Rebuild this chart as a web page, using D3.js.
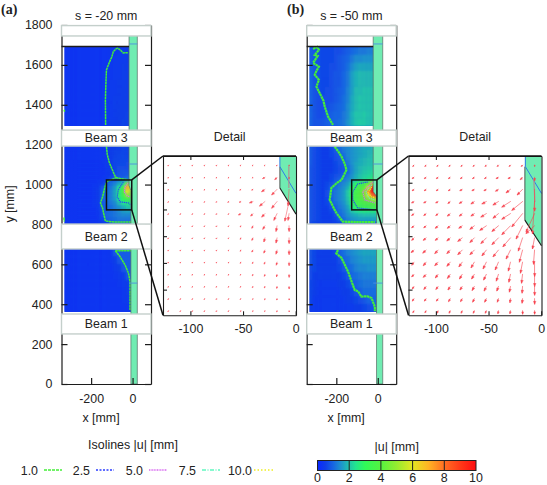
<!DOCTYPE html>
<html><head><meta charset="utf-8">
<script src="https://cdn.jsdelivr.net/npm/d3@7/dist/d3.min.js"></script>
<style>
html,body{margin:0;padding:0;background:#fff}
svg{display:block}
text{font-family:"Liberation Sans",Arial,sans-serif;font-size:12.4px;fill:#222}
</style></head><body><div id="c"></div>
<script>
// ---------- data ----------
const yTicks=[0,200,400,600,800,1000,1200,1400,1600,1800];
const xTicks=[-200,0];
const detailXTicks=[-100,-50,0];
const detailYTicks=[900,925,950,975,1000];
const beams=[["",1745,1797],["Beam 3",1193,1273],["Beam 2",677,802],["Beam 1",251,351]];
const cellCols=[-325,-305,-285,-265,-245,-225,-205,-185,-165,-145,-125,-105,-85,-65,-45,-25,-5];
const upperRows=[1670,1630,1590,1550,1510,1470,1430,1390,1350,1310];
const middleRows=[1185,1165,1145,1125,1105,1085,1065,1045,1025,1005,985,965,945,925,905,885,865,845,825,805];
const lowerRows=[660,620,580,540,500,460,420,380];
const aUpper=[
[.3,.3,.3,.3,.3,.3,.3,.3,.3,.3,.3,.35,.35,.4,.4,.45,.45],
[.3,.3,.3,.3,.3,.3,.3,.3,.3,.3,.3,.35,.4,.4,.4,.45,.45],
[.3,.3,.3,.3,.3,.3,.3,.3,.3,.3,.35,.35,.4,.4,.45,.45,.45],
[.3,.3,.3,.3,.3,.3,.3,.3,.3,.3,.35,.35,.4,.4,.45,.5,.5],
[.3,.3,.3,.3,.3,.3,.3,.3,.3,.3,.35,.4,.4,.45,.45,.5,.5],
[.3,.3,.3,.3,.3,.3,.3,.3,.3,.3,.35,.4,.4,.45,.5,.5,.5],
[.3,.3,.3,.3,.3,.3,.3,.3,.3,.3,.35,.4,.45,.45,.5,.5,.5],
[.3,.3,.3,.3,.3,.3,.3,.3,.3,.3,.35,.4,.45,.5,.5,.5,.55],
[.3,.3,.3,.3,.3,.3,.3,.3,.3,.3,.35,.4,.45,.5,.5,.55,.55],
[.3,.3,.3,.3,.3,.3,.3,.3,.3,.3,.35,.45,.45,.5,.55,.55,.6]];
const aMiddle=[
[.3,.3,.3,.3,.3,.3,.3,.3,.3,.35,.45,.5,.5,.55,.6,.6,.6],
[.3,.3,.3,.3,.3,.3,.3,.3,.3,.35,.45,.5,.55,.55,.6,.6,.6],
[.3,.3,.3,.3,.3,.3,.3,.3,.3,.35,.4,.5,.55,.6,.6,.6,.6],
[.3,.3,.3,.3,.3,.3,.3,.3,.3,.35,.4,.5,.6,.6,.65,.65,.65],
[.3,.3,.3,.3,.3,.3,.3,.3,.3,.3,.4,.45,.6,.65,.65,.7,.7],
[.3,.3,.3,.3,.3,.3,.3,.3,.3,.3,.4,.45,.6,.7,.7,.7,.7],
[.3,.3,.3,.3,.3,.3,.3,.3,.3,.3,.35,.45,.6,.75,.8,.8,.8],
[.3,.3,.3,.3,.3,.3,.3,.3,.3,.3,.35,.45,.7,.8,.8,.9,.9],
[.3,.3,.3,.3,.3,.3,.3,.3,.3,.35,.5,.7,.9,1.1,1.2,1.3,1.3],
[.3,.3,.3,.3,.3,.3,.3,.3,.35,.5,.8,1.1,1.3,1.7,2.3,4.5,5.5],
[.3,.3,.3,.3,.3,.3,.3,.35,.4,.8,1.0,1.2,1.6,2.4,3.6,7,6],
[.3,.3,.3,.3,.3,.3,.3,.35,.45,.9,1.1,1.3,1.7,2.7,3.8,6,5],
[.3,.3,.3,.3,.3,.3,.3,.35,.45,.9,1.1,1.3,1.7,2.6,3.5,5,4.5],
[.3,.3,.3,.3,.3,.3,.3,.35,.45,.9,1.1,1.3,1.6,2.4,3,3.5,3.3],
[.3,.3,.3,.3,.3,.3,.3,.35,.4,.85,1.05,1.2,1.4,1.9,2.4,2.6,2.6],
[.3,.3,.3,.3,.3,.3,.3,.3,.4,.8,1.0,1.1,1.3,1.5,1.8,2.1,2.2],
[.3,.3,.3,.3,.3,.3,.3,.3,.35,.7,1,1.1,1.2,1.4,1.6,1.7,1.7],
[.3,.3,.3,.3,.3,.3,.3,.3,.35,.7,1,1.1,1.2,1.3,1.4,1.4,1.4],
[.3,.3,.3,.3,.3,.3,.3,.3,.35,.6,.9,1.0,1.1,1.2,1.2,1.2,1.2],
[.3,.3,.3,.3,.3,.3,.3,.3,.3,.4,.5,.8,.9,.9,.9,.8,.8]];
const aLower=[
[.3,.3,.3,.3,.3,.3,.3,.3,.3,.3,.3,.35,.8,.9,.9,.9,.9],
[.3,.3,.3,.3,.3,.3,.3,.3,.3,.3,.3,.35,.5,.8,.9,.9,.9],
[.3,.3,.3,.3,.3,.3,.3,.3,.3,.3,.3,.3,.4,.5,.8,.9,.9],
[.3,.3,.3,.3,.3,.3,.3,.3,.3,.3,.3,.3,.35,.4,.5,.8,.9],
[.3,.3,.3,.3,.3,.3,.3,.3,.3,.3,.3,.3,.3,.35,.4,.5,.8],
[.3,.3,.3,.3,.3,.3,.3,.3,.3,.3,.3,.3,.3,.3,.35,.45,.7],
[.3,.3,.3,.3,.3,.3,.3,.3,.3,.3,.3,.3,.3,.3,.35,.4,.6],
[.3,.3,.3,.3,.3,.3,.3,.3,.3,.3,.3,.3,.3,.3,.3,.35,.5]];
const bUpper=[
[.9,.8,.7,.6,.6,.6,.7,.7,.8,.9,1.0,1.1,1.2,1.2,1.3,1.3,1.3],
[.9,.8,.7,.6,.6,.6,.7,.8,.9,1.0,1.2,1.4,1.4,1.5,1.5,1.5,1.5],
[1.0,.8,.7,.6,.6,.7,.7,.8,.9,1.1,1.4,1.6,1.7,1.7,1.7,1.7,1.7],
[1.0,.8,.7,.6,.6,.7,.8,.8,1.0,1.2,1.6,1.8,1.9,1.9,1.9,1.9,1.9],
[1.0,.8,.7,.6,.6,.7,.8,.8,1.0,1.2,1.6,1.8,1.9,1.9,1.9,1.9,1.9],
[1.0,.8,.7,.6,.7,.7,.8,.9,1.0,1.3,1.6,1.9,1.9,2,2,2,2],
[1.0,.8,.7,.7,.7,.7,.8,.9,1.1,1.3,1.7,1.9,2,2,2,2,2],
[1.0,.8,.7,.7,.7,.8,.9,1.0,1.1,1.4,1.7,1.9,2,2,2,2,2],
[1.0,.8,.7,.7,.8,.9,1.0,1.0,1.2,1.4,1.8,2,2,2.1,2,2,2],
[1.0,.8,.8,.8,.9,1.0,1.0,1.1,1.2,1.5,1.8,2,2.1,2.1,2,2,2]];
const bMiddle=[
[.9,.7,.6,.5,.5,.6,.9,1.1,1.3,1.4,1.5,1.6,1.7,1.8,1.8,1.9,1.9],
[.9,.7,.6,.5,.5,.6,.8,1.0,1.2,1.4,1.5,1.6,1.7,1.8,1.9,1.9,1.9],
[.9,.7,.6,.5,.5,.6,.7,.9,1.1,1.4,1.5,1.6,1.7,1.8,1.9,2,2],
[.9,.7,.6,.5,.5,.5,.7,.8,1.0,1.3,1.5,1.6,1.8,1.9,2,2,2],
[.9,.7,.6,.5,.5,.5,.6,.8,.9,1.2,1.5,1.7,1.8,1.9,2,2,2.1],
[.8,.7,.6,.5,.5,.5,.6,.7,.8,1.1,1.4,1.7,1.9,2,2.1,2.1,2.2],
[.8,.7,.6,.5,.5,.5,.6,.7,.8,1.0,1.4,1.7,1.9,2.1,2.2,2.3,2.4],
[.8,.7,.6,.5,.5,.6,.7,.8,1.0,1.2,1.5,1.8,2.0,2.2,2.3,2.5,2.6],
[.8,.7,.6,.5,.5,.6,.8,1.0,1.2,1.4,1.6,1.9,2.1,2.4,2.6,2.9,3.2],
[.8,.7,.6,.5,.6,.7,1.0,1.2,1.4,1.6,2.2,2.9,3.2,3.6,4.2,5.5,9],
[.8,.7,.6,.5,.6,.9,1.1,1.3,1.5,1.8,2.8,3.4,3.8,4.2,5.8,10,10],
[.8,.7,.6,.5,.7,1.0,1.2,1.4,1.6,2.1,3.1,3.6,4,4.8,7.5,10,10],
[.8,.7,.6,.5,.7,1.0,1.2,1.4,1.6,2.1,3.1,3.7,4,4.6,5.8,8,9],
[.8,.7,.6,.5,.6,.9,1.2,1.4,1.6,2,3,3.6,3.9,4.2,4.7,5.2,5.2],
[.8,.7,.6,.5,.6,.8,1.1,1.3,1.5,1.9,2.8,3.4,3.6,3.8,3.9,4,4.2],
[.8,.7,.6,.5,.5,.7,.9,1.2,1.4,1.7,2.5,3,3.3,3.4,3.5,3.6,3.7],
[.8,.7,.6,.5,.5,.6,.8,1.1,1.3,1.6,2,2.3,2.5,2.6,2.6,2.6,2.6],
[.8,.7,.6,.5,.5,.5,.7,1.0,1.2,1.5,1.7,1.8,1.9,2,2,2,2],
[.8,.7,.6,.5,.5,.5,.6,.9,1.1,1.3,1.5,1.6,1.7,1.7,1.7,1.7,1.7],
[.7,.6,.5,.5,.5,.5,.5,.6,.8,1.0,1.1,1.1,1.1,1.1,1.0,1.0,1.0]];
const bLower=[
[.8,.6,.5,.5,.5,.5,.6,.9,1.1,1.3,1.4,1.5,1.6,1.7,1.7,1.7,1.7],
[.8,.6,.5,.5,.5,.5,.5,.7,1.0,1.1,1.3,1.4,1.5,1.6,1.6,1.6,1.6],
[.7,.6,.5,.5,.5,.5,.5,.6,.8,1.0,1.1,1.3,1.4,1.4,1.5,1.5,1.5],
[.7,.5,.5,.5,.5,.5,.5,.5,.6,.8,1.0,1.1,1.2,1.3,1.3,1.3,1.3],
[.6,.5,.4,.4,.4,.4,.4,.5,.5,.6,.8,.9,1.1,1.2,1.2,1.2,1.2],
[.6,.5,.4,.4,.4,.4,.4,.4,.5,.5,.6,.8,.9,1.1,1.1,1.1,1.1],
[.6,.4,.4,.4,.4,.4,.4,.4,.4,.5,.5,.6,.7,.8,1.0,1.0,1.0],
[.5,.4,.4,.4,.4,.4,.4,.4,.4,.4,.4,.5,.5,.6,.7,.8,.8]];
const colorStops=[0,.5,1,1.5,2,2.4,3,4,5,6,7,8,9,10];
const colorValues=["#0a28ff","#0f3ee8","#1766e2","#1e94cc","#20c4aa","#22e490","#30fb58","#55f240","#96ec30","#e4e822","#ffb424","#ff6e22","#ff3a18","#ff0c10"];
const isoLevels=["1.0","2.5","5.0","7.5","10.0"];
const isoColors=["#44ee38","#2a3cff","#d868f0","#60f8c0","#eeee20"];
const stripColor="#70ecb2";
const aIso1=[
[[-23,1661],[-45,1660],[-60,1675],[-72,1684],[-80,1680],[-93,1667],[-100,1640],[-107,1625],[-117,1600],[-126,1575],[-129,1500],[-131,1424],[-130,1299]],
[[-126,1190],[-122,1150],[-112,1110],[-100,1080],[-88,1050],[-80,1035],[-92,1028],[-120,1018],[-130,1000],[-145,938],[-155,908],[-145,883],[-140,858],[-131,817],[-83,812],[-7,812]],
[[-80,1035],[-60,1030],[-30,1025],[-8,1020]],
[[-83,668],[-60,638],[-36,597],[-20,556],[-12,513],[-12,371]],
[[-83,668],[-8,668]],
[[-330,1375],[-328,1365]],[[-331,835],[-330,815]]];
const aIso25=[[[-45,1013],[-69,973],[-74,938],[-60,913],[-21,908],[-7,898]]];
const aIso5=[[[-21,1008],[-36,988],[-40,963],[-26,943],[-12,938]]];
const aIso75=[];
const aIso10=[];
const bIso1=[
[[-312,1680],[-292,1690],[-284,1675],[-304,1650],[-290,1645],[-296,1635],[-312,1610],[-284,1591],[-296,1570],[-304,1550],[-284,1525],[-296,1491],[-272,1441],[-262,1420],[-256,1391],[-240,1341],[-216,1299]],
[[-208,1190],[-190,1165],[-175,1140],[-160,1105],[-151,1073],[-175,1023],[-195,1010],[-224,983],[-232,923],[-208,873],[-199,857],[-169,814],[-103,812],[-14,812]],
[[-192,672],[-200,655],[-175,632],[-143,563],[-125,510],[-111,471],[-95,465],[-79,438],[-50,440],[-30,431],[-14,387],[-14,365]]];
const bIso25=[[[-18,1680],[-18,1300]],[[-18,1190],[-18,1030]],[[-48,1013],[-97,1003],[-121,963],[-121,923],[-97,883],[-14,873]]];
const bIso5=[[[-24,1013],[-72,963],[-63,923],[-14,908]]];
const bIso75=[[[-29,998],[-58,963],[-43,933],[-14,923]]];
const bIso10=[[[-29,988],[-48,958],[-29,938],[-14,935]]];
const arrowX=[-120.8,-109.3,-97.9,-86.4,-75,-63.5,-52.1,-40.6,-29.2,-17.7,-6.3];
const arrowY=[1016.5,1005.1,993.8,982.4,971.1,959.7,948.4,937,925.7,914.3,903,891.6,880.3];
const aDx=[
[-.5,-.5,-.5,-.5,-.5,-.5,-.5,-.5,-.5,-.5,0],
[-.5,-.5,-.5,-.5,-.5,-.5,-.5,-.5,-2,-2,0],
[-.5,-.5,-.5,-.5,-.5,-.5,-.8,-1,-3,-5,-1],
[-.5,-.5,-.5,-.5,-.5,-.8,-1.2,-3,-5,-5,-4],
[-.5,-.5,-.5,-.5,-.5,-.5,-2,-2,-3,-3,-1],
[-.5,-.5,-.5,-.5,-.5,-.5,-.5,-1,-2,-1,0],
[-.5,-.5,-.5,-.5,-.5,-.5,-.5,-1,-1,-1,0],
[-.5,-.5,-.5,-.5,-.5,-.5,-.5,-1,-1,-1,0],
[-.5,-.5,-.5,-.5,-.5,-.5,-.5,-.5,-.7,-.7,0],
[-.5,-.5,-.5,-.5,-.5,-.5,-.5,-.5,-.5,-.5,0],
[-.5,-.5,-.5,-.5,-.5,-.5,-.5,-.5,-.5,-.3,0],
[-.5,-.5,-.5,-.5,-.5,-.5,-.5,-.3,-.3,-.3,0],
[-.5,-.5,-.5,-.5,-.5,-.5,-.3,-.3,-.3,-.3,0]];
const aDy=[
[.5,.5,.5,.5,.5,.5,.5,.5,.5,.5,.5],
[.5,.5,.5,.5,.5,.5,.5,.5,1,2,1],
[.5,.5,.5,.5,.5,.5,.5,.5,2,5,15],
[.5,.5,.5,.5,.5,.5,.5,1,4,6,18],
[.5,.5,.5,.5,.5,.5,1,2,3,6,6],
[.5,.5,.5,.5,.5,.5,.8,2,3,5,5],
[.5,.5,.5,.5,.5,.5,1,2,3.5,4.5,5],
[.5,.5,.5,.5,.5,.5,.8,1.5,2.5,3.5,4],
[.5,.5,.5,.5,.5,.5,.8,1,1.5,2.5,3],
[.5,.5,.5,.5,.5,.5,.5,1,1.5,2,2.5],
[.5,.5,.5,.5,.5,.5,.5,.8,1,1.5,2],
[.5,.5,.5,.5,.5,.5,.5,.5,.8,1,1],
[.5,.5,.5,.5,.5,.5,.5,.5,.5,.8,.8]];
const bDx=[
[-1,-1,-1,-1,-1,-1,-1,-1,-1,-1,0],
[-1.5,-1.5,-1.5,-1.5,-1.5,-1.5,-1.5,-2,-2,-2,0],
[-1.5,-1.5,-1.5,-1.5,-2,-2,-2,-2.5,-4,-5,0],
[-2,-2,-2,-2,-2.5,-3,-4,-5,-8,-10,-2],
[-2,-2,-2,-2.5,-2.5,-3,-5,-5,-8,-10,-8],
[-2,-2,-2.5,-2.5,-3,-4,-6,-6,-8,-6,-8],
[-2,-2.5,-2.5,-3,-4,-4,-5,-6,-7,-4,-2],
[-2.5,-3,-3,-3,-4,-4,-4,-5,-4,-3,-1],
[-2,-2.5,-3,-3,-3,-3,-3,-3,-2,-2,0],
[-2,-2.5,-2.5,-2.5,-2.5,-2.5,-2.5,-2,-1.5,-1,0],
[-1.5,-2,-2,-2,-2,-2,-2,-1.5,-1,-.5,0],
[-1.5,-1.5,-1.5,-1.5,-1.5,-1.5,-1.5,-1,-.5,-.5,0],
[-1,-1,-1,-1,-1,-1,-1,-.5,-.5,0,0]];
const bDy=[
[1,1,1,1,1,1,1,1,1,1,1],
[1,1,1,1,1,1,1,1,1,2,3],
[1,1,1,1,1,1,1,1.5,3,5,20],
[1,1,1,1.5,1.5,2,2,3,5,8,30],
[1.5,1.5,1.5,2,2,2,3,4,5,12,17],
[1.5,1.5,2,2,2,3,4,5,8,12,7],
[2,2,2,2.5,3,4,5,6,8,12,10],
[2,2.5,3,3,4,4,5,6,8,11,13],
[2.5,3,3,3.5,4,5,6,7,8,10,13],
[2,2.5,3,3.5,4,4,5,6,7,8,11],
[2,2.5,2.5,3,3,3.5,4,4,5,6,8],
[2,2,2,2.5,2.5,3,3,3,3.5,4,5],
[1.5,1.5,2,2,2,2,2,2.5,2.5,3,3]];
const aStrip=[[-17,1745],[-17,995],[-8,970],[-8,0],[23,0],[23,1745]];
const bStrip=[[-22,1745],[-22,965],[-6,941],[-6,0],[24,0],[24,1745]];
const aDetailStrip=[[-15,1025],[-15,995],[0.3,970.6],[0.3,1025]];
const bDetailStrip=[[-15.5,1025],[-15.5,965],[0.3,941],[0.3,1025]];
const stripMarks=[1705,1103,506];
const detailBlue=[[-15,1025],[-15,1015],[0.3,990]];
const aGrayLine=[[-6.5,1016],[-6.5,995]];
const bGrayLine=[[-7,1004],[-6,982]];
const colorbarTicks=[0,2,4,6,8,10];

// ---------- drawing ----------
const svg=d3.select("#c").append("svg").attr("width",547).attr("height",485);
const color=d3.scaleLinear().domain(colorStops).range(colorValues);
const defs=svg.append("defs");
defs.append("filter").attr("id","soft").attr("x","-5%").attr("y","-5%").attr("width","110%").attr("height","110%")
  .append("feGaussianBlur").attr("stdDeviation",1.0);
const y=d3.scaleLinear().domain([0,1800]).range([384,25]);
const yD=d3.scaleLinear().domain([876,1025]).range([315.3,156]);
const ink="#1c1c1c";
const line=d3.line();
const plain=d=>String(d);

function field(g,id,x,rows,values,top,bottom,left,rowH){
  defs.append("clipPath").attr("id",id).append("rect")
    .attr("x",x(left)).attr("y",y(top)).attr("width",x(5)-x(left)).attr("height",y(bottom)-y(top));
  const h=g.append("g").attr("clip-path",`url(#${id})`);
  h.append("rect").attr("x",x(left)).attr("y",y(top)).attr("width",x(5)-x(left)).attr("height",y(bottom)-y(top)).attr("fill",color(.4));
  const f=h.append("g").attr("filter","url(#soft)");
  rows.forEach((ry,i)=>{
    f.selectAll(null).data(values[i]).join("rect")
      .attr("x",(d,j)=>x(cellCols[j]-10.5)).attr("y",y(ry+rowH/2+.5))
      .attr("width",x(11)-x(-10)).attr("height",y(0)-y(rowH+1)).attr("fill",d=>color(d));
  });
}
function isolines(g,x,yy,sets,w0){
  sets.forEach((segs,k)=>{
    g.selectAll(null).data(segs).join("path")
      .attr("d",s=>line(s.map(p=>[x(p[0]),yy(p[1])])))
      .attr("fill","none").attr("stroke",isoColors[k]).attr("stroke-width",k==0?w0:1.1)
      .attr("stroke-dasharray",k==0?"2.5 .4":"1.2 .8");
  });
}
function panel(o){
  const x=d3.scaleLinear().domain([-343,89]).range([o.left,o.left+89.5]);
  const g=svg.append("g");
  field(g,o.id+"u",x,upperRows,o.upper,1692,1293,o.fieldLeft,40);
  field(g,o.id+"m",x,middleRows,o.middle,1193,802,o.fieldLeft,20);
  field(g,o.id+"l",x,lowerRows,o.lower,677,361,o.fieldLeft,40);
  isolines(g,x,y,o.iso,o.isoWidth);
  g.append("path").attr("d",line(o.strip.map(p=>[x(p[0]),y(p[1])])))
    .attr("fill",stripColor).attr("stroke","#5a6a64").attr("stroke-width",.7);
  g.selectAll(null).data(stripMarks).join("line")
    .attr("x1",x(o.strip[0][0])).attr("x2",x(o.strip[4][0])).attr("y1",d=>y(d)).attr("y2",d=>y(d))
    .attr("stroke","#4d8fe0").attr("stroke-width",.9);
  g.append("line").attr("x1",o.left).attr("x2",x(o.strip[0][0])).attr("y1",y(1692)).attr("y2",y(1692)).attr("stroke",ink).attr("stroke-width",1.4);
  // axes
  const ax=g.append("g").attr("class","ax");
  ax.append("g").attr("transform",`translate(${o.left},0)`)
    .call(d3.axisLeft(y).tickValues(yTicks).tickFormat(o.yLabels?plain:"").tickSizeInner(-6).tickSizeOuter(0).tickPadding(9));
  ax.append("g").attr("transform",`translate(${o.left+89.5},0)`)
    .call(d3.axisRight(y).tickValues(yTicks).tickFormat("").tickSizeInner(-6).tickSizeOuter(0));
  ax.append("g").attr("transform","translate(0,384)")
    .call(d3.axisBottom(x).tickValues(xTicks).tickFormat(plain).tickSizeInner(-6).tickSizeOuter(0).tickPadding(10));
  ax.selectAll("path,line").attr("stroke",ink).attr("stroke-width",1.2);
  ax.selectAll("text").attr("fill","#222").style("font-size","12.4px").style("font-family",'"Liberation Sans"');
  // beams
  g.selectAll(null).data(beams).join("rect")
    .attr("x",o.left).attr("width",89.5).attr("y",d=>y(d[2])).attr("height",d=>y(d[1])-y(d[2]))
    .attr("fill","#fff").attr("stroke","#c4cfcb").attr("stroke-width",1.4);
  g.selectAll(null).data(beams).join("text")
    .attr("x",o.left+44.7).attr("y",d=>(y(d[1])+y(d[2]))/2+4.3).attr("text-anchor","middle").text(d=>d[0]);
  g.append("text").attr("x",o.left+44.7).attr("y",20).attr("text-anchor","middle").text(o.title);
  g.append("text").attr("x",o.left+39.5).attr("y",422).attr("text-anchor","middle").text("x [mm]");
  g.append("text").attr("x",o.tagX).attr("y",14).attr("text-anchor","start")
    .style("font-family",'"Liberation Serif"').style("font-weight","bold").style("font-size","14px").text(o.tag);

  // detail
  const xD=d3.scaleLinear().domain([-126,0.3]).range([o.dLeft,o.dLeft+133]);
  const d=svg.append("g");
  d.append("rect").attr("x",o.dLeft).attr("y",156).attr("width",133).attr("height",159.3).attr("fill","#fff");
  d.append("path").attr("d",line(o.dStrip.map(p=>[xD(p[0]),yD(p[1])]))+"Z").attr("fill",stripColor);
  d.append("path").attr("d",line(o.dStrip.slice(1,3).map(p=>[xD(p[0]),yD(p[1])]))).attr("stroke",ink).attr("stroke-width",1.1).attr("fill","none");
  d.append("line").attr("x1",xD(o.dStrip[0][0])).attr("x2",xD(o.dStrip[0][0])).attr("y1",yD(1015)).attr("y2",yD(o.dStrip[1][1])).attr("stroke","#333").attr("stroke-width",.8);
  d.append("path").attr("d",line(detailBlue.map(p=>[xD(p[0]),yD(p[1])]))).attr("stroke","#2f7be8").attr("stroke-width",1).attr("fill","none");
  d.append("path").attr("d",line(o.gray.map(p=>[xD(p[0]),yD(p[1])]))).attr("stroke","#b09090").attr("stroke-width",1.2).attr("fill","none");
  // arrows
  const arrows=[];
  arrowY.forEach((ay,r)=>arrowX.forEach((ax0,c)=>arrows.push({ax0,ay,u:o.dx[r][c],v:o.dy[r][c]})));
  d.selectAll(null).data(arrows).join("path").attr("d",a=>{
    const x0=xD(a.ax0),y0=yD(a.ay),x1=xD(a.ax0+a.u),y1=yD(a.ay-a.v);
    const L=Math.hypot(x1-x0,y1-y0)||1, hl=Math.min(2.6,L*.6), hw=hl*.36;
    const ux=(x1-x0)/L,uy=(y1-y0)/L;
    const bx=x1-ux*hl,by=y1-uy*hl;
    return `M${x0},${y0}L${x1},${y1}M${x1},${y1}L${bx-uy*hw},${by+ux*hw}L${bx+uy*hw},${by-ux*hw}Z`;
  }).attr("stroke","#f6404c").attr("stroke-width",o.arrowWidth).attr("fill","#f6404c").attr("stroke-linecap","round");
  const dx=d.append("g").attr("class","dax");
  dx.append("g").attr("transform","translate(0,315.3)").call(d3.axisBottom(xD).tickValues(detailXTicks).tickFormat(plain).tickSizeInner(-4).tickSizeOuter(0).tickPadding(9));
  dx.append("g").attr("transform","translate(0,156)").call(d3.axisTop(xD).tickValues(detailXTicks.slice(0,2)).tickFormat("").tickSizeInner(-4).tickSizeOuter(0));
  dx.append("g").attr("transform",`translate(${o.dLeft},0)`).call(d3.axisLeft(yD).tickValues(detailYTicks).tickFormat("").tickSizeInner(-4).tickSizeOuter(0));
  dx.append("g").attr("transform",`translate(${o.dLeft+133},0)`).call(d3.axisRight(yD).tickValues([]).tickFormat("").tickSizeOuter(0));
  dx.selectAll("path,line").attr("stroke",ink).attr("stroke-width",1.1);
  dx.selectAll("text").attr("fill","#222").style("font-size","12.4px").style("font-family",'"Liberation Sans"');
  d.append("text").attr("x",o.dLeft+66.7).attr("y",141).attr("text-anchor","middle").text("Detail");
  // zoom box + connectors
  const top=y(1023),bot=y(873),l=x(-126),r=x(-4);
  const c=svg.append("g").attr("fill","none").attr("stroke","#111").attr("stroke-width",1.5);
  c.append("rect").attr("x",l).attr("y",top).attr("width",r-l).attr("height",bot-top);
  c.append("line").attr("x1",r).attr("y1",top).attr("x2",o.dLeft).attr("y2",156);
  c.append("line").attr("x1",r).attr("y1",bot).attr("x2",o.dLeft).attr("y2",315.3);
  c.append("line").attr("x1",o.dLeft).attr("x2",o.dLeft+133).attr("y1",156).attr("y2",156);
}
panel({id:"a",left:61.5,dLeft:163,fieldLeft:-329,upper:aUpper,middle:aMiddle,lower:aLower,
  iso:[aIso1,aIso25,aIso5,aIso75,aIso10],strip:aStrip,dStrip:aDetailStrip,gray:aGrayLine,
  dx:aDx,dy:aDy,title:"s = -20 mm",tag:"(a)",tagX:1,yLabels:true,isoWidth:1.5,arrowWidth:.5});
panel({id:"b",left:306.7,dLeft:408.5,fieldLeft:-330,upper:bUpper,middle:bMiddle,lower:bLower,
  iso:[bIso1,bIso25,bIso5,bIso75,bIso10],strip:bStrip,dStrip:bDetailStrip,gray:bGrayLine,
  dx:bDx,dy:bDy,title:"s = -50 mm",tag:"(b)",tagX:287,yLabels:false,isoWidth:2.2,arrowWidth:.6});
svg.append("text").attr("transform","translate(14,204) rotate(-90)").attr("text-anchor","middle").text("y [mm]");

// isoline legend
svg.append("text").attr("x",133).attr("y",449).attr("text-anchor","middle").text("Isolines |u| [mm]");
const legendX=[38,90,143,196,252];
const legG=svg.append("g");
legG.selectAll("text").data(isoLevels).join("text").attr("x",(d,i)=>legendX[i]).attr("y",474.5).attr("text-anchor","end").text(d=>d);
legG.selectAll("line").data(isoLevels).join("line")
  .attr("x1",(d,i)=>legendX[i]+(i==4?2:6)).attr("x2",(d,i)=>legendX[i]+(i==4?21:24)).attr("y1",470).attr("y2",470)
  .attr("stroke",(d,i)=>isoColors[i]).attr("stroke-width",1.3).attr("stroke-dasharray",(d,i)=>["3 1","2 1.5","1 .6","4 1.5 1 1.5","1.5 2"][i]);

// colour bar
const cb=d3.scaleLinear().domain([0,10]).range([317.5,476]);
const grad=defs.append("linearGradient").attr("id","cbg");
grad.selectAll("stop").data(colorStops).join("stop").attr("offset",d=>d*10+"%").attr("stop-color",d=>color(d));
svg.append("text").attr("x",396.7).attr("y",450.5).attr("text-anchor","middle").text("|u| [mm]");
svg.append("rect").attr("x",cb(0)).attr("y",460.5).attr("width",cb(10)-cb(0)).attr("height",10).attr("fill","url(#cbg)").attr("stroke","#222").attr("stroke-width",1);
svg.selectAll(null).data(colorbarTicks.slice(1,5)).join("line").attr("x1",d=>cb(d)).attr("x2",d=>cb(d)).attr("y1",460.5).attr("y2",470.5).attr("stroke","#222");
svg.selectAll(null).data(colorbarTicks).join("text").attr("x",d=>cb(d)).attr("y",482).attr("text-anchor","middle").text(d=>d);
</script></body></html>
